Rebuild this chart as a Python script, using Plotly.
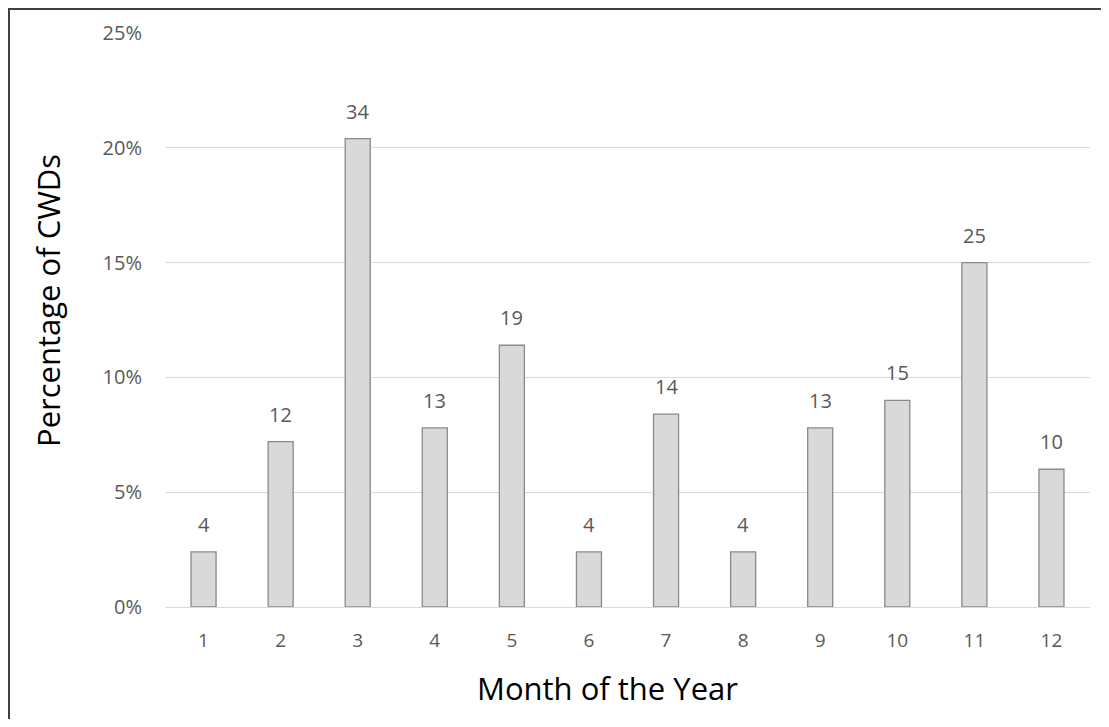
import plotly.graph_objects as go

months = [1, 2, 3, 4, 5, 6, 7, 8, 9, 10, 11, 12]
counts = [4, 12, 34, 13, 19, 4, 14, 4, 13, 15, 25, 10]
percent = [0.024, 0.072, 0.204, 0.078, 0.114, 0.024, 0.084, 0.024, 0.078, 0.090, 0.150, 0.060]
y_ticks = [0, 0.05, 0.10, 0.15, 0.20, 0.25]
y_tick_labels = ["0%", "5%", "10%", "15%", "20%", "25%"]

# page has an 8px body margin; figure sized to fit the 1109x727 window
W, H = 1093, 711
L, R, T, B = 157, 11, 25, 112
pw, ph = W - L - R, H - T - B

fig = go.Figure(go.Bar(
    x=months, y=percent,
    marker=dict(color="#d9d9d9", line=dict(color="#8a8a8a", width=1.3)),
    hoverinfo="skip",
))

annotations = [
    dict(x=m, y=p, xref="x", yref="y", text=str(c), showarrow=False,
         yanchor="bottom", yshift=12,
         font=dict(size=20, color="#595959", family="Open Sans"))
    for m, p, c in zip(months, percent, counts)
]
annotations.append(dict(
    text="Month of the Year", xref="paper", yref="paper",
    x=(607 - 165) / 925, y=(607 - 688) / 574, showarrow=False,
    xanchor="center", yanchor="middle",
    font=dict(size=31, color="#000000", family="Open Sans"),
))
annotations.append(dict(
    text="Percentage of CWDs", xref="paper", yref="paper",
    x=(48 - 165) / 925, y=(607 - 300) / 574, showarrow=False, textangle=-90,
    xanchor="center", yanchor="middle",
    font=dict(size=31, color="#000000", family="Open Sans"),
))

fig.update_layout(
    width=W, height=H,
    margin=dict(l=L, r=R, t=T, b=B, autoexpand=False),
    paper_bgcolor="white", plot_bgcolor="white",
    bargap=0.675, showlegend=False,
    font=dict(family="Open Sans", color="#595959"),
    xaxis=dict(
        range=[0.5, 12.5], tickvals=months, ticktext=[str(m) for m in months],
        showgrid=False, showline=True, linecolor="#d9d9d9", linewidth=1.3, zeroline=False,
        ticks="", tickfont=dict(size=19, color="#595959"), ticklabelstandoff=16,
    ),
    yaxis=dict(
        range=[0, 0.25], tickvals=y_ticks, ticktext=y_tick_labels,
        showgrid=True, gridcolor="#d9d9d9", gridwidth=1, zeroline=False,
        ticks="", tickfont=dict(size=20, color="#595959"), ticklabelstandoff=22,
    ),
    annotations=annotations,
    shapes=[dict(
        type="rect", xref="paper", yref="paper",
        x0=(1 - L) / pw, x1=(W + 10 - L) / pw,
        y0=(T + ph - (H + 10)) / ph, y1=(T + ph - 1) / ph,
        line=dict(color="#404040", width=2), fillcolor="rgba(0,0,0,0)", layer="above",
    )],
)

fig.write_html("out.html")
